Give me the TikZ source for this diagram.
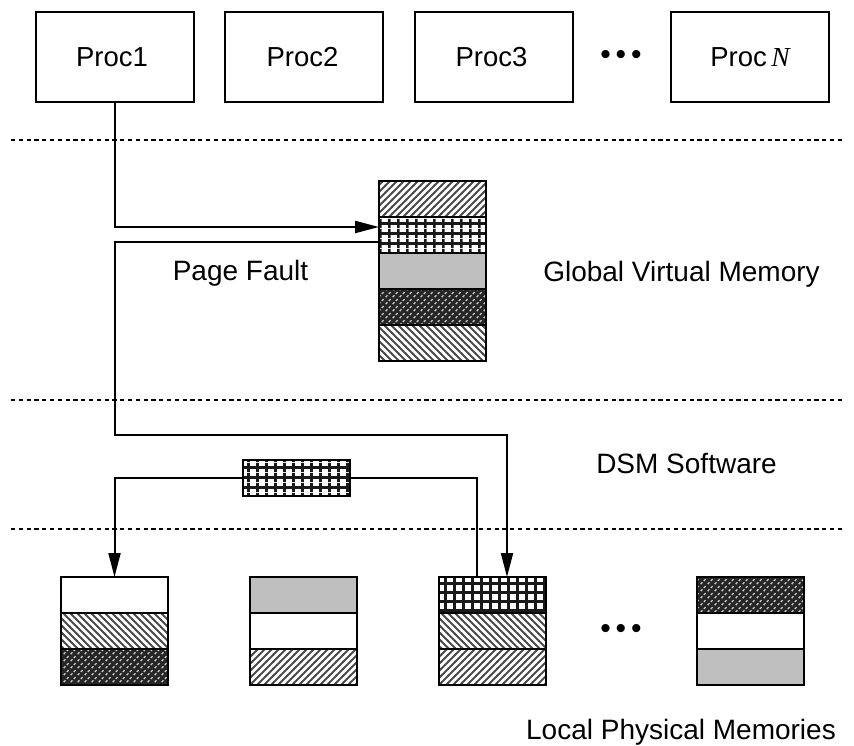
\documentclass[tikz,border=0pt]{standalone}
\usepackage{fontspec}
\setmainfont{Liberation Sans}
\newfontfamily\serifit[Scale=1]{Liberation Serif}
\usetikzlibrary{patterns,arrows.meta}
\pgfdeclarepatternformonly{hneline}{\pgfqpoint{-1pt}{-1pt}}{\pgfqpoint{8pt}{8pt}}{\pgfqpoint{7pt}{7pt}}{%
  \pgfsetlinewidth{1.9pt}\pgfpathmoveto{\pgfqpoint{-1pt}{-1pt}}\pgfpathlineto{\pgfqpoint{8pt}{8pt}}\pgfusepath{stroke}}
\pgfdeclarepatternformonly{hnwline}{\pgfqpoint{-1pt}{-1pt}}{\pgfqpoint{8pt}{8pt}}{\pgfqpoint{7pt}{7pt}}{%
  \pgfsetlinewidth{1.9pt}\pgfpathmoveto{\pgfqpoint{-1pt}{8pt}}\pgfpathlineto{\pgfqpoint{8pt}{-1pt}}\pgfusepath{stroke}}
\pgfdeclarepatternformonly{hgrid}{\pgfqpoint{0pt}{0pt}}{\pgfqpoint{9.4pt}{9.4pt}}{\pgfqpoint{9.4pt}{9.4pt}}{%
  \pgfsetlinewidth{2.8pt}\pgfpathmoveto{\pgfqpoint{0pt}{4.7pt}}\pgfpathlineto{\pgfqpoint{9.4pt}{4.7pt}}
  \pgfpathmoveto{\pgfqpoint{4.7pt}{0pt}}\pgfpathlineto{\pgfqpoint{4.7pt}{9.4pt}}\pgfusepath{stroke}}
\pgfdeclarepatternformonly{hdark}{\pgfqpoint{0pt}{0pt}}{\pgfqpoint{7pt}{7pt}}{\pgfqpoint{7pt}{7pt}}{%
  \pgfsetlinewidth{1.5pt}\pgfpathmoveto{\pgfqpoint{0.8pt}{1pt}}\pgfpathlineto{\pgfqpoint{2.8pt}{3pt}}
  \pgfpathmoveto{\pgfqpoint{4.3pt}{4.5pt}}\pgfpathlineto{\pgfqpoint{6.3pt}{6.5pt}}\pgfusepath{stroke}}
\tikzset{x=1pt,y=-1pt,
  cellbox/.style={draw,line width=2pt,minimum width=107pt,minimum height=36pt,inner sep=0pt,outer sep=0pt},
  procbox/.style={draw,line width=2pt,minimum width=158pt,minimum height=90pt,inner sep=0pt,outer sep=0pt,font=\fontsize{27.5}{30}\selectfont},
  blank/.style={cellbox,fill=white},
  neline/.style={cellbox,pattern=hneline,pattern color=black!70},
  nwline/.style={cellbox,pattern=hnwline,pattern color=black!70},
  gridcell/.style={cellbox,pattern=hgrid,pattern color=black!90},
  greycell/.style={cellbox,fill=black!25},
  darkback/.style={cellbox,fill=black!85},
  darkcell/.style={cellbox,pattern=hdark,pattern color=white!80!black},
  sep/.style={line width=1.6pt,dash pattern=on 4.2pt off 3.6pt},
  conn/.style={line width=2pt},
  arr/.style={conn,-{Triangle[length=24pt,width=12pt]}},
  lab/.style={font=\fontsize{28}{30}\selectfont,inner sep=0pt,anchor=base},
  dots/.style={font=\fontsize{30}{30}\selectfont,inner sep=0pt}
}
\begin{document}
\begin{tikzpicture}
\useasboundingbox (0,0) rectangle (854,746);
% separators
\coordinate (s1l) at (11,140); \coordinate (s1r) at (844,140);
\coordinate (s2l) at (11,400); \coordinate (s2r) at (844,400);
\coordinate (s3l) at (11,529); \coordinate (s3r) at (844,529);
\draw[sep] (s1l) -- (s1r);
\draw[sep] (s2l) -- (s2r);
\draw[sep] (s3l) -- (s3r);
% processors
\node[procbox] (p1) at (115,57) {Proc1\kern6pt};
\node[procbox] (p2) at (304,57) {Proc2\kern3pt};
\node[procbox] (p3) at (493.5,57) {Proc3\kern4pt};
\node[procbox] (pn) at (750,57) {Proc\,{\serifit\itshape N}};
\node[dots] (d1) at (621,57) {•\,•\,•};
% global memory
\node[neline] (g1) at (432.5,199) {};
\node[gridcell] (g2) at (432.5,235) {};
\node[greycell] (g3) at (432.5,271) {};
\node[darkback] at (432.5,307) {};
\node[darkcell] (g4) at (432.5,307) {};
\node[nwline] (g5) at (432.5,343) {};
% local memories
\node[blank] (a1) at (114.5,595) {};
\node[nwline] (a2) at (114.5,631) {};
\node[darkback] at (114.5,667) {};
\node[darkcell] (a3) at (114.5,667) {};
\node[greycell] (b1) at (303.5,595) {};
\node[blank] (b2) at (303.5,631) {};
\node[neline] (b3) at (303.5,667) {};
\node[gridcell] (c1) at (492,595) {};
\node[nwline] (c2) at (492,631) {};
\node[neline] (c3) at (492,667) {};
\node[darkback] at (750,595) {};
\node[darkcell] (e1) at (750,595) {};
\node[blank] (e2) at (750,631) {};
\node[greycell] (e3) at (750,667) {};
\node[dots] (d2) at (621,631) {•\,•\,•};
% transit page
\node[gridcell] (t) at (296.5,478) {};
% connectors
\coordinate (c2a) at (115,435);
\draw[arr] (p1.south) |- ([yshift=8pt]g2.west);
\draw[arr] ([yshift=-7pt]g2.west) -| (c2a) -| ([xshift=15pt]c1.north);
\draw[conn] ([xshift=-15pt]c1.north) |- (t.east);
\draw[arr] (t.west) -| (a1.north);
% labels
\node[lab] (l1) at (240.5,280) {Page Fault};
\node[lab] (l2) at (681.5,281) {Global Virtual Memory};
\node[lab] (l3) at (686.5,473) {DSM Software};
\node[lab] (l4) at (681,739) {Local Physical Memories};
\end{tikzpicture}
\end{document}
